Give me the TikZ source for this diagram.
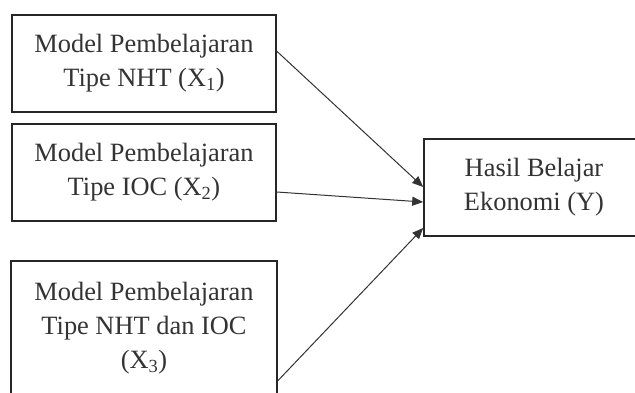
\documentclass[tikz,border=0pt]{standalone}
\usepackage{fontspec}
\setmainfont{Liberation Serif}
\usetikzlibrary{arrows.meta}
\begin{document}
\begin{tikzpicture}[x=1pt,y=-1pt,
  box/.style={draw=black!85, line width=1.6pt, rectangle, align=center,
    text=black!80, inner sep=0pt,
    font=\fontsize{26.4}{34}\selectfont},
  conn/.style={draw=black!80, line width=1pt, -{Triangle[length=11pt,width=9pt]}}]
\useasboundingbox (0,0) rectangle (635,392);
\fill[white] (0,0) rectangle (635,392);
\node[box, minimum width=264pt, minimum height=97pt] (b1) at (144,63.5)
  {Model Pembelajaran\\Tipe NHT (X\textsubscript{1})};
\node[box, minimum width=264pt, minimum height=97pt] (b2) at (144,172.5)
  {Model Pembelajaran\\Tipe IOC (X\textsubscript{2})};
\node[box, minimum width=266pt, minimum height=134pt] (b3) at (144,328)
  {Model Pembelajaran\\Tipe NHT dan IOC\\(X\textsubscript{3})};
\node[box, minimum width=220pt, minimum height=97pt] (y) at (534,187.5)
  {Hasil Belajar\\Ekonomi (Y)};
\coordinate (s1) at ([yshift=-37pt]b1.north east);
\coordinate (s2) at ([yshift=-19.5pt]b2.east);
\coordinate (s3) at ([yshift=15pt]b3.south east);
\coordinate (t1) at ([yshift=0.5pt]y.west);
\coordinate (t2) at ([yshift=-14.5pt]y.west);
\coordinate (t3) at ([yshift=-40.5pt]y.west);
\draw[conn] (s1) -- (t1);
\draw[conn] (s2) -- (t2);
\draw[conn] (s3) -- (t3);
\end{tikzpicture}
\end{document}
